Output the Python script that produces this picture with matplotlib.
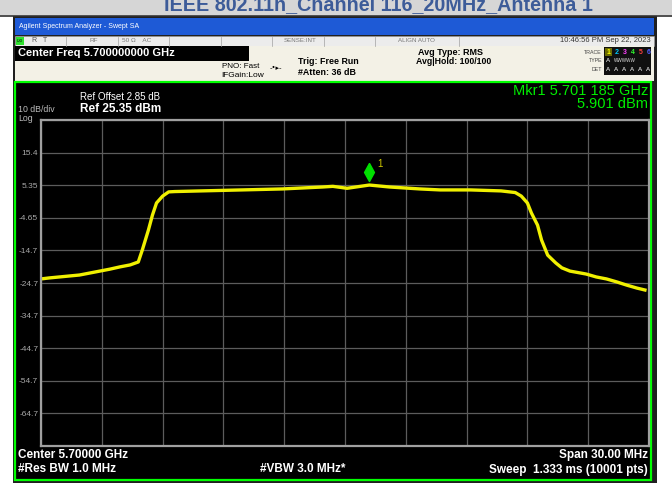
"""Spectrum analyzer screenshot: IEEE 802.11n Channel 116, 20 MHz, antenna 1."""
import matplotlib
matplotlib.use("Agg")
import matplotlib.pyplot as plt
from matplotlib.patches import Rectangle

plt.rcParams["font.family"] = ["Liberation Sans", "DejaVu Sans"]

W, H = 672, 483

# trace (frequency in GHz, level in dBm)
freq_ghz = [5.6850, 5.6854, 5.6859, 5.6864, 5.6869, 5.6874, 5.6879, 5.6884,
            5.6889, 5.6894, 5.6898, 5.6900, 5.6903, 5.6905, 5.6907, 5.6910,
            5.6913, 5.6916, 5.6929, 5.6949, 5.6969, 5.6979, 5.6989, 5.6994,
            5.7001, 5.7012, 5.7022, 5.7037, 5.7047, 5.7062, 5.7077, 5.7084,
            5.7087, 5.7090, 5.7092, 5.7095, 5.7097, 5.7100, 5.7104, 5.7107,
            5.7111, 5.7119, 5.7124, 5.7129, 5.7134, 5.7139, 5.7144, 5.7148]
level_dbm = [-23.4, -23.1, -22.8, -22.5, -22.2, -21.6, -21.0, -20.4,
             -19.7, -19.1, -18.2, -14.5, -8.4, -3.8, -0.1, 2.0,
             3.3, 3.4, 3.6, 3.9, 4.2, 4.5, 4.8, 5.0,
             4.4, 5.4, 4.8, 4.2, 3.9, 3.9, 3.6, 3.1,
             2.0, -0.1, -3.2, -6.9, -11.5, -16.1, -18.5, -20.0,
             -21.0, -21.9, -22.8, -23.4, -24.3, -25.3, -26.2, -26.8]

center_ghz = 5.700
span_ghz = 0.030
ref_level = 25.35
db_per_div = 10
ytick_labels = ["", "15.4", "5.35", "-4.65", "-14.7", "-24.7",
                "-34.7", "-44.7", "-54.7", "-64.7", ""]
mkr_freq = 5.701185
mkr_level = 5.901

fig = plt.figure(figsize=(W / 100, H / 100), dpi=100, facecolor="white")
bg = fig.add_axes([0, 0, 1, 1])
bg.set_xlim(0, W)
bg.set_ylim(H, 0)
bg.axis("off")


def box(x0, y0, x1, y1, fc, ec="none", lw=0, z=1):
    bg.add_patch(Rectangle((x0, y0), x1 - x0, y1 - y0, fc=fc, ec=ec, lw=lw, zorder=z))


def txt(x, y, s, size=5, color="black", ha="left", weight="normal", **kw):
    bg.text(x, y, s, fontsize=size, color=color, ha=ha, va="center",
            fontweight=weight, zorder=5, **kw)


# page header (title is clipped by the top edge in the original too)
box(0, 0, W, 15, "#d6d6d6")
bg.plot([0, W], [15.5, 15.5], color="#303030", lw=1.2, zorder=2)
txt(378, 5, "IEEE 802.11n_Channel 116_20MHz_Antenna 1", size=14.2,
    color="#3d5c99", ha="center", weight="bold")

# instrument window
box(13, 16, 657, 483, "#202020")
box(15, 18, 654, 35, "#1e5ad6")
txt(19, 27, "Agilent Spectrum Analyzer - Swept SA", size=5, color="white")
box(15, 36, 654, 46, "#ececec", ec="#9a9a9a", lw=0.4)
for sx in [66, 118, 169, 221, 272, 324, 375, 459]:
    bg.plot([sx, sx], [36.5, 45.5], color="#a0a0a0", lw=0.5, zorder=2)
box(16, 37, 24, 45, "#2ee02e")
txt(17, 41, "LXI", size=3, color="black")
txt(32, 41, "R   T", size=5, color="#555555")
txt(89, 41, "RF", size=4.6, color="#777777")
txt(122, 41, "50 \u03a9    AC", size=4.6, color="#777777")
txt(284, 41, "SENSE:INT", size=4.4, color="#777777")
txt(398, 41, "ALIGN AUTO", size=4.4, color="#777777")
txt(651, 41, "10:46:56 PM Sep 22, 2023", size=5.5, color="#333333", ha="right")

box(15, 46, 654, 81, "#f3f1e6")
box(15, 46, 249, 61, "black")
txt(18, 53.5, "Center Freq 5.700000000 GHz", size=8, color="white", weight="bold")
txt(259, 66, "PNO: Fast", size=5.8, color="black", ha="right")
txt(264, 75.5, "IFGain:Low", size=6, color="black", ha="right")
txt(276, 67, "-\u2022\u25b8-", size=5, color="black", ha="center",
    family=["DejaVu Sans"])
txt(298, 62, "Trig: Free Run", size=6.4, color="black", weight="bold")
txt(298, 72.5, "#Atten: 36 dB", size=6.4, color="black", weight="bold")
txt(418, 52.5, "Avg Type: RMS", size=6.5, color="black", weight="bold")
txt(416, 62, "Avg|Hold: 100/100", size=6.3, color="black", weight="bold")
box(604, 47, 651, 75, "#101010")
txt(602, 52, "TRACE", size=3.8, color="#444444", ha="right")
txt(602, 61, "TYPE", size=3.8, color="#444444", ha="right")
txt(602, 69.5, "DET", size=3.8, color="#444444", ha="right")
box(605, 48, 612, 56, "#6b6b00")
trace_colors = ["#ffff00", "#00c8ff", "#ff40ff", "#30ff30", "#ff4040", "#5060ff"]
for i, c in enumerate(trace_colors):
    txt(608.5 + i * 8, 52, str(i + 1), size=5, color=c, ha="center", weight="bold")
txt(606, 61, "A", size=4.5, color="white")
txt(614, 61, "WWWWW", size=3.3, color="#dddddd")
for i in range(6):
    txt(608.5 + i * 8, 69.5, "A", size=4.5, color="white", ha="center")

# display area
box(15, 82, 651, 480, "black", ec="#00ff00", lw=1.6, z=1)
txt(80, 97, "Ref Offset 2.85 dB", size=7, color="white")
txt(80, 109.5, "Ref 25.35 dBm", size=8.5, color="white", weight="bold")
txt(18, 109.5, "10 dB/div", size=6.3, color="#bbbbbb")
txt(18, 118.5, "Log", size=6.3, color="#bbbbbb")
txt(648, 91, "Mkr1 5.701 185 GHz", size=10.5, color="#00ee00", ha="right")
txt(648, 104, "5.901 dBm", size=10.5, color="#00ee00", ha="right")
txt(18, 455, "Center 5.70000 GHz", size=8.5, color="white", weight="bold")
txt(18, 469.5, "#Res BW 1.0 MHz", size=8.5, color="white", weight="bold")
txt(303, 469.5, "#VBW 3.0 MHz*", size=8.5, color="white", weight="bold", ha="center")
txt(648, 455, "Span 30.00 MHz", size=8.5, color="white", weight="bold", ha="right")
txt(648, 469.5, "Sweep  1.333 ms (10001 pts)", size=8.5, color="white",
    weight="bold", ha="right")

# grid + trace
ax = fig.add_axes([41 / W, 1 - 446 / H, 608 / W, 326 / H], facecolor="black")
ax.set_zorder(3)
f0, f1 = center_ghz - span_ghz / 2, center_ghz + span_ghz / 2
bottom = ref_level - 10 * db_per_div
ax.set_xlim(f0, f1)
ax.set_ylim(bottom, ref_level)
ax.set_xticks([f0 + i * span_ghz / 10 for i in range(11)])
ax.set_yticks([bottom + i * db_per_div for i in range(11)])
ax.set_xticklabels([])
ax.set_yticklabels(ytick_labels[::-1], fontsize=6, color="#a8a8a8")
ax.tick_params(length=0, pad=2)
ax.grid(True, color="#5c5c5c", lw=0.9)
for s in ax.spines.values():
    s.set_color("#a0a0a0")
    s.set_linewidth(1.6)
ax.plot(freq_ghz, level_dbm, color="#f0f000", lw=2.4, solid_joinstyle="round")

# marker 1: tall green diamond sitting just above the trace
diamond = [(0, 1), (0.55, 0), (0, -1), (-0.55, 0), (0, 1)]
ax.plot([mkr_freq], [mkr_level + 3.4], marker=diamond, ms=13, mfc="#00e000",
        mec="#00e000", ls="none")
ax.text(mkr_freq + 0.0004, mkr_level + 6.0, "1", fontsize=7, color="#d0c800",
        va="center")

fig.savefig("out.png", dpi=100, facecolor=fig.get_facecolor())
